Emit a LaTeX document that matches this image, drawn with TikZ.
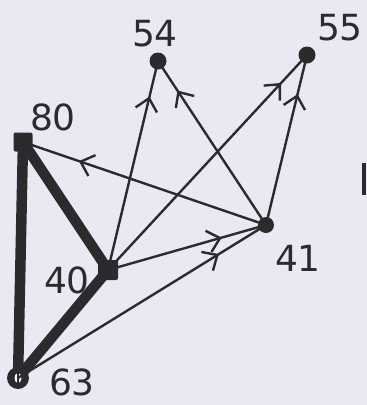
\documentclass[tikz,border=0pt]{standalone}
\usepackage{fontspec}
\setmainfont{DejaVu Sans}
\usetikzlibrary{arrows.meta,decorations.markings}
\definecolor{bg}{HTML}{E9E9F4}
\definecolor{ink}{HTML}{2B2B2E}
\tikzset{
  dot/.style={circle,fill=ink,inner sep=0pt,minimum size=#1},
  sq/.style={rectangle,rounded corners=2pt,fill=ink,inner sep=0pt,minimum size=#1},
  lbl/.style={text=ink,font=\fontsize{36}{36}\selectfont},
  thin edge/.style={draw=ink,line width=2.4pt},
  thick edge/.style={draw=ink,line width=10.5pt},
  midarrow/.style={thin edge,postaction={decorate},decoration={markings,
    mark=at position #1 with {\arrow{Straight Barb[length=12pt,width=22pt,line width=2.4pt]}}}}
}
\begin{document}
\begin{tikzpicture}[x=1pt,y=-1pt]
\fill[bg] (0,0) rectangle (367,405);
\useasboundingbox (0,0) rectangle (367,405);
% nodes
\node[dot=17pt] (n54) at (158,61) {};
\node[dot=17pt] (n55) at (307,55) {};
\node[sq=19pt] (n80) at (23,142) {};
\node[sq=20pt] (n40) at (108,270) {};
\node[dot=16pt] (n41) at (266,225) {};
\node[dot=22pt] (n63) at (18,378) {};
% thick edges
\draw[thick edge] (n80.center) -- (n63.center);
\draw[thick edge] (n80.center) -- (n40.center);
\draw[thick edge] (n40.center) -- (n63.center);
\fill[white] (n63.center) ellipse (3.5pt and 5pt);
\draw[ink,line width=1.2pt] (n63.center)++(0,-5) -- ++(0,10);
% arrowed edges
\draw[midarrow=0.77] (n41.center) -- (n80.center);
\draw[midarrow=0.83] (n40.center) -- (n54.center);
\draw[midarrow=0.82] (n41.center) -- (n54.center);
\draw[midarrow=0.87] (n40.center) -- (n55.center);
\draw[midarrow=0.77] (n41.center) -- (n55.center);
\draw[midarrow=0.72] (n40.center) -- (n41.center);
\draw[midarrow=0.81] (n63.center) -- (n41.center);
% labels
\node[lbl] (l54) at (155,34) {54};
\node[lbl] (l55) at (340,28) {55};
\node[lbl] (l80) at (53,117) {80};
\node[lbl] (l40) at (67,280) {40};
\node[lbl] (l41) at (298,258) {41};
\node[lbl] (l63) at (72,382) {63};
% stray mark at right edge
\draw[ink,line width=3.5pt] (364,163) -- (364,195);
\end{tikzpicture}
\end{document}
